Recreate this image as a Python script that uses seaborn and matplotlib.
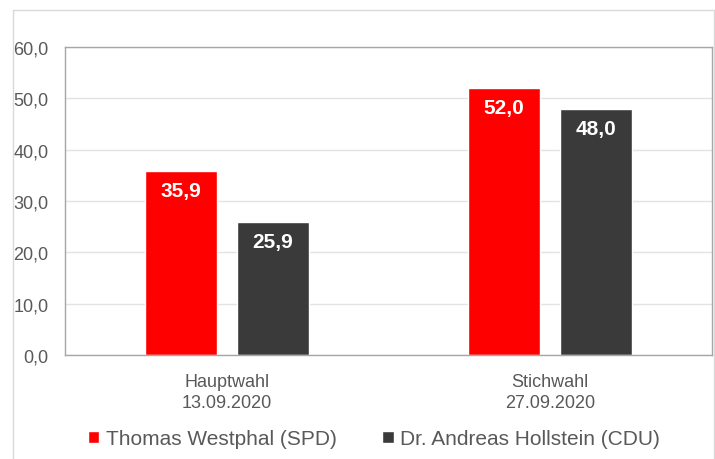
import matplotlib
matplotlib.use("Agg")
import matplotlib.pyplot as plt
import seaborn as sns
import pandas as pd
from matplotlib.lines import Line2D

# Data
wahlen = ["Hauptwahl\n13.09.2020", "Stichwahl\n27.09.2020"]
kandidaten = ["Thomas Westphal (SPD)", "Dr. Andreas Hollstein (CDU)"]
spd_werte = [35.9, 52.0]
cdu_werte = [25.9, 48.0]
farben = ["#FF0000", "#3A3A3A"]
y_ticks = [0, 10, 20, 30, 40, 50, 60]

rows = []
for w, s, c in zip(wahlen, spd_werte, cdu_werte):
    rows.append({"Wahl": w, "Kandidat": kandidaten[0], "Prozent": s})
    rows.append({"Wahl": w, "Kandidat": kandidaten[1], "Prozent": c})
df = pd.DataFrame(rows)

sns.set_theme(style="white")
plt.rcParams["font.family"] = ["Liberation Sans", "DejaVu Sans"]
text_col = "#595959"

fig = plt.figure(figsize=(7.15, 4.6), dpi=100)
ax = fig.add_axes([65 / 715, 1 - 356 / 460, (712 - 65) / 715, (356 - 48) / 460])

sns.barplot(data=df, x="Wahl", y="Prozent", hue="Kandidat", order=wahlen,
            hue_order=kandidaten, palette=farben, width=0.569, gap=0.217,
            saturation=1, ax=ax, legend=True, errorbar=None)

ax.set_ylim(0, 60)
ax.set_yticks(y_ticks)
ax.set_yticklabels([f"{v:.1f}".replace(".", ",") for v in y_ticks],
                   color=text_col, fontsize=13)
ax.set_xticklabels(wahlen, color=text_col, fontsize=13, linespacing=1.3)
ax.tick_params(axis="y", length=0, pad=12)
ax.tick_params(axis="x", length=0, pad=13)
ax.set_xlabel("")
ax.set_ylabel("")
ax.yaxis.grid(True, color="#e3e3e3", linewidth=1)
ax.set_axisbelow(True)
for sp in ax.spines.values():
    sp.set_visible(True)
    sp.set_color("#a6a6a6")
    sp.set_linewidth(1)

for cont in ax.containers:
    for p in cont:
        h = p.get_height()
        ax.annotate(f"{h:.1f}".replace(".", ","),
                    (p.get_x() + p.get_width() / 2, h),
                    xytext=(0, -7.5), textcoords="offset points",
                    ha="center", va="top", color="white",
                    fontsize=15, fontweight="bold")

handles, labels = ax.get_legend_handles_labels()
ax.legend_.remove()
fig.legend(handles, labels, loc="center", bbox_to_anchor=(374 / 715, 1 - 440 / 460),
           ncol=2, frameon=False, fontsize=15, handlelength=0.55, handleheight=0.55,
           handletextpad=0.3, columnspacing=2.2, labelcolor=text_col)

# outer frame
fc = "#d9d9d9"
x0, x1, y1 = 13 / 715, 714 / 715, 1 - 11 / 460
fig.add_artist(Line2D([x0, x1], [y1, y1], color=fc, lw=1, transform=fig.transFigure))
fig.add_artist(Line2D([x0, x0], [0, y1], color=fc, lw=1, transform=fig.transFigure))
fig.add_artist(Line2D([x1, x1], [0, y1], color=fc, lw=1, transform=fig.transFigure))

fig.savefig("out.png", dpi=100)
